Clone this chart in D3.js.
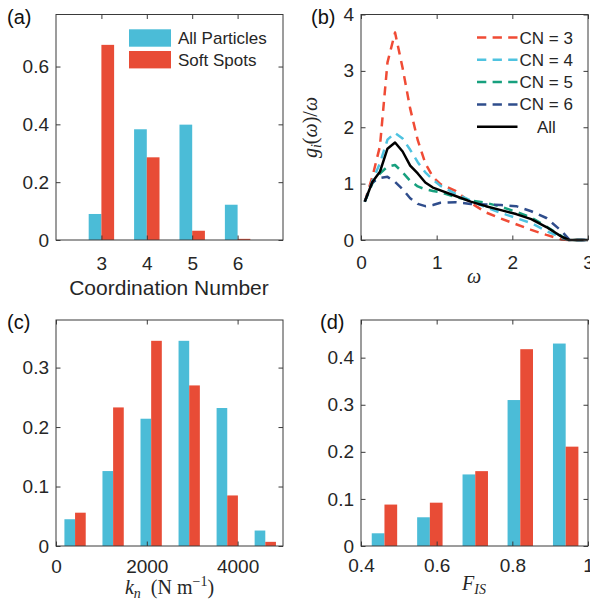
<!DOCTYPE html>
<meta charset="utf-8">
<title>Soft spots: coordination, modes, stiffness</title>
<style>
body {
  margin: 0;
  background-color: #fff;
}
svg text {
  font-family: "Liberation Sans", Arial, Helvetica, sans-serif;
  fill: #262626;
}
svg text.tex {
  font-family: "Liberation Serif", "Times New Roman", serif;
}
</style>
<svg width="590" height="604"></svg>
<script src="https://cdn.jsdelivr.net/npm/d3@7/dist/d3.min.js"></script>
<script>

// (a) coordination number histogram
var cnCats = [3, 4, 5, 6];
var cnAll  = [0.090, 0.383, 0.399, 0.122];
var cnSoft = [0.675, 0.286, 0.032, 0.004];

// (b) g_i(w)/w for each coordination number
var omega = [0.05, 0.15, 0.25, 0.35, 0.45, 0.55, 0.65, 0.75, 0.85, 0.95, 1.05,
             1.25, 1.45, 1.65, 1.85, 2.05, 2.25, 2.45, 2.65, 2.75, 2.85, 3.0];
var gCN3 = [0.68, 1.12, 1.66, 3.15, 3.68, 3.05, 2.33, 1.77, 1.36, 1.12, 0.99,
            0.87, 0.66, 0.49, 0.38, 0.28, 0.18, 0.09, 0.01, 0, 0, 0];
var gCN4 = [0.68, 1.05, 1.36, 1.78, 1.90, 1.80, 1.60, 1.38, 1.20, 1.07, 0.96,
            0.82, 0.70, 0.58, 0.48, 0.39, 0.30, 0.16, 0.04, 0, 0, 0];
var gCN5 = [0.68, 1.00, 1.18, 1.30, 1.33, 1.20, 1.05, 0.95, 0.90, 0.87, 0.85,
            0.76, 0.70, 0.66, 0.59, 0.50, 0.40, 0.24, 0.07, 0, 0, 0];
var gCN6 = [0.68, 1.02, 1.10, 1.12, 1.03, 0.90, 0.74, 0.64, 0.60, 0.62, 0.66,
            0.67, 0.64, 0.63, 0.62, 0.60, 0.51, 0.39, 0.16, 0.01, 0, 0];
var gAll = [0.68, 1.03, 1.21, 1.62, 1.73, 1.57, 1.32, 1.18, 1.02, 0.93, 0.88,
            0.78, 0.68, 0.60, 0.53, 0.46, 0.37, 0.23, 0.06, 0, 0, 0];
var lineNames = ["CN = 3", "CN = 4", "CN = 5", "CN = 6", "All"];

// (c) contact stiffness k_n
var knCenters = [420, 1258, 2096, 2934, 3772, 4610];
var knAll  = [0.045, 0.126, 0.214, 0.345, 0.232, 0.026];
var knSoft = [0.056, 0.233, 0.345, 0.270, 0.085, 0.007];

// (d) F_IS
var fisCenters = [0.462, 0.582, 0.702, 0.821, 0.941];
var fisAll  = [0.027, 0.061, 0.152, 0.310, 0.430];
var fisSoft = [0.088, 0.092, 0.159, 0.418, 0.211];

var blue = "#4bbcd7", red = "#e84c36";
var lineColors = ["#f04b35", "#4fc3e0", "#17a07e", "#2f4d8c", "#000"];

var svg = d3.select("svg");

var col = [56, 361], colW = 227;
var row = [[14.5, 240], [320, 546]];

function panel(ci, ri, xdom, ydom) {
  var x = d3.scaleLinear().domain(xdom).range([col[ci], col[ci] + colW]);
  var y = d3.scaleLinear().domain(ydom).range([row[ri][1], row[ri][0]]);
  return { x: x, y: y, g: svg.append("g") };
}

// box with inward ticks on all four sides, labels bottom and left
function frame(p, xTicks, yTicks, xFmt, yFmt, xPad) {
  var x = p.x, y = p.y, g = p.g;
  var x0 = x.range()[0], x1 = x.range()[1], y0 = y.range()[0], y1 = y.range()[1];
  var tk = -4.5;

  var ax = [
    [d3.axisBottom(x).tickValues(xTicks).tickFormat(xFmt).tickPadding(xPad), "translate(0," + y0 + ")"],
    [d3.axisTop(x).tickValues(xTicks).tickFormat(""), "translate(0," + y1 + ")"],
    [d3.axisLeft(y).tickValues(yTicks).tickFormat(yFmt).tickPadding(7), "translate(" + x0 + ",0)"],
    [d3.axisRight(y).tickValues(yTicks).tickFormat(""), "translate(" + x1 + ",0)"]
  ];
  ax.forEach(function(a) {
    var s = g.append("g")
        .attr("transform", a[1])
        .call(a[0].tickSizeInner(tk).tickSizeOuter(0));
    s.select(".domain").remove();
    s.selectAll("line").attr("stroke", "#3a3a3a");
    s.selectAll("text").attr("font-size", 19).attr("font-family", null).attr("fill", null);
  });

  g.append("rect")
      .attr("x", x0).attr("y", y1)
      .attr("width", x1 - x0).attr("height", y0 - y1)
      .attr("fill", "none")
      .attr("stroke", "#3a3a3a")
      .attr("stroke-width", 1);
}

function bars(p, centers, all, soft) {
  var w = 0.28 * (p.x(centers[1]) - p.x(centers[0]));
  var y0 = p.y(0);
  [[all, -1, blue], [soft, 0, red]].forEach(function(s) {
    p.g.selectAll(null)
        .data(s[0])
      .enter().append("rect")
        .attr("x", function(d, i) { return p.x(centers[i]) + s[1] * w; })
        .attr("y", function(d) { return p.y(d); })
        .attr("width", w)
        .attr("height", function(d) { return y0 - p.y(d); })
        .attr("fill", s[2]);
  });
}

function tag(txt, x, y) {
  svg.append("text").attr("x", x).attr("y", y)
      .attr("font-size", 20).style("fill", "#111").text(txt);
}

var fmt1 = d3.format(".1f");
function zeroOr(f) { return function(d) { return d === 0 ? "0" : f(d); }; }

// ---------------- (a)
var pa = panel(0, 0, [2, 7], [0, 0.78]);
bars(pa, cnCats, cnAll, cnSoft);
frame(pa, cnCats, [0, 0.2, 0.4, 0.6], d3.format("d"), zeroOr(fmt1), 16.5);

pa.g.append("text")
    .attr("x", 169).attr("y", 295)
    .attr("text-anchor", "middle").attr("font-size", 21)
    .text("Coordination Number");

[["All Particles", blue], ["Soft Spots", red]].forEach(function(d, i) {
  pa.g.append("rect")
      .attr("x", 129).attr("y", 29.3 + i * 21.7)
      .attr("width", 42).attr("height", 17.4)
      .attr("fill", d[1]);
  pa.g.append("text")
      .attr("x", 178).attr("y", 44.3 + i * 21.7)
      .attr("font-size", 17)
      .text(d[0]);
});
tag("(a)", 7, 24);

// ---------------- (b)
var pb = panel(1, 0, [0, 3], [0, 4]);
var series = [gCN3, gCN4, gCN5, gCN6, gAll];
var line = d3.line()
    .x(function(d, i) { return pb.x(omega[i]); })
    .y(function(d) { return pb.y(d); });

series.forEach(function(s, k) {
  pb.g.append("path")
      .attr("d", line(s))
      .attr("fill", "none")
      .attr("stroke", lineColors[k])
      .attr("stroke-width", 2.5)
      .attr("stroke-linejoin", "round")
      .attr("stroke-dasharray", k < 4 ? "9,6.5" : null);
});
frame(pb, [0, 1, 2, 3], [0, 1, 2, 3, 4], d3.format("d"), d3.format("d"), 16);

lineNames.forEach(function(name, k) {
  var yy = 37.5 + k * 22.3;
  pb.g.append("line")
      .attr("x1", 477).attr("x2", 517.5)
      .attr("y1", yy).attr("y2", yy)
      .attr("stroke", lineColors[k])
      .attr("stroke-width", 2.5)
      .attr("stroke-dasharray", k < 4 ? "9.3,6.3" : null);
  pb.g.append("text")
      .attr("x", k < 4 ? 519.5 : 537).attr("y", yy + 6)
      .attr("font-size", 17)
      .text(name);
});

var yl = pb.g.append("text")
    .attr("class", "tex")
    .attr("transform", "translate(317,127.5) rotate(-90)")
    .attr("text-anchor", "middle")
    .attr("font-size", 20);
yl.append("tspan").attr("font-style", "italic").text("g");
yl.append("tspan").attr("font-style", "italic").attr("font-size", 14).attr("dy", 4).text("i");
yl.append("tspan").attr("dy", -4).text("(");
yl.append("tspan").attr("font-style", "italic").text("ω");
yl.append("tspan").text(")/");
yl.append("tspan").attr("font-style", "italic").text("ω");

pb.g.append("text")
    .attr("class", "tex")
    .attr("x", 474).attr("y", 283)
    .attr("text-anchor", "middle")
    .attr("font-size", 20)
    .attr("font-style", "italic")
    .text("ω");
tag("(b)", 311, 24);

// ---------------- (c)
var pc = panel(0, 1, [0, 5000], [0, 0.38]);
bars(pc, knCenters, knAll, knSoft);
frame(pc, [0, 2000, 4000], [0, 0.1, 0.2, 0.3], d3.format("d"), zeroOr(fmt1), 13.5);

var xl = pc.g.append("text")
    .attr("class", "tex")
    .attr("x", 169.5).attr("y", 594)
    .attr("text-anchor", "middle")
    .attr("font-size", 20);
xl.append("tspan").attr("font-style", "italic").text("k");
xl.append("tspan").attr("font-style", "italic").attr("font-size", 14).attr("dy", 4).text("n");
xl.append("tspan").attr("dy", -4).text("\u2002(N m");
xl.append("tspan").attr("font-size", 14).attr("dy", -8).text("−1");
xl.append("tspan").attr("dy", 8).text(")");
tag("(c)", 7, 329);

// ---------------- (d)
var pd = panel(1, 1, [0.4, 1], [0, 0.48]);
bars(pd, fisCenters, fisAll, fisSoft);
frame(pd, [0.4, 0.6, 0.8, 1], [0, 0.1, 0.2, 0.3, 0.4],
      function(d) { return d === 1 ? "1" : fmt1(d); }, zeroOr(fmt1), 13);

var fl = pd.g.append("text")
    .attr("class", "tex")
    .attr("x", 474).attr("y", 590)
    .attr("text-anchor", "middle")
    .attr("font-size", 20);
fl.append("tspan").attr("font-style", "italic").text("F");
fl.append("tspan").attr("font-style", "italic").attr("font-size", 14).attr("dy", 4).text("IS");
tag("(d)", 320, 329);

</script>
